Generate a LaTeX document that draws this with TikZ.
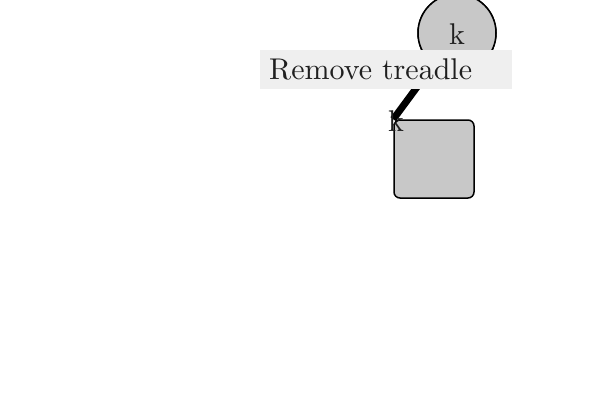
\documentclass[tikz,border=0pt]{standalone}
\usepackage{fontspec}
\newfontfamily\lmten{lmroman10-regular}[Extension=.otf]
\usetikzlibrary{positioning}
\definecolor{nodegray}{HTML}{C8C8C8}
\definecolor{labelgray}{HTML}{EFEFEF}
\tikzset{
  x=1pt, y=-1pt,
  bignode/.style={draw=black, line width=1.5pt, fill=nodegray, inner sep=0pt},
  labeltext/.style={font=\lmten\fontsize{30}{36}\selectfont, text=black!88, inner sep=0pt},
  labelbox/.style={fill=labelgray, minimum width=252pt, minimum height=39pt, inner sep=0pt},
}
\begin{document}
\begin{tikzpicture}
\useasboundingbox (0,0) rectangle (600,400);
\node[bignode, rounded corners=6pt, minimum width=80pt, minimum height=78pt] (sq) at (434,159) {};
\node[bignode, circle, minimum size=78pt] (c) at (457,33) {};
\draw[line width=7pt] (c.center) -- (sq.north west);
\node[bignode, circle, minimum size=78pt] (c2) at (457,33) {};
\node[labeltext] (ck) at (457,34) {k};
\node[labelbox] (lb) at (386,69.5) {};
\node[labeltext, anchor=base west] (lt) at (269,79) {Remove treadle};
\node[labeltext] (sk) at (396,121) {k};
\end{tikzpicture}
\end{document}
